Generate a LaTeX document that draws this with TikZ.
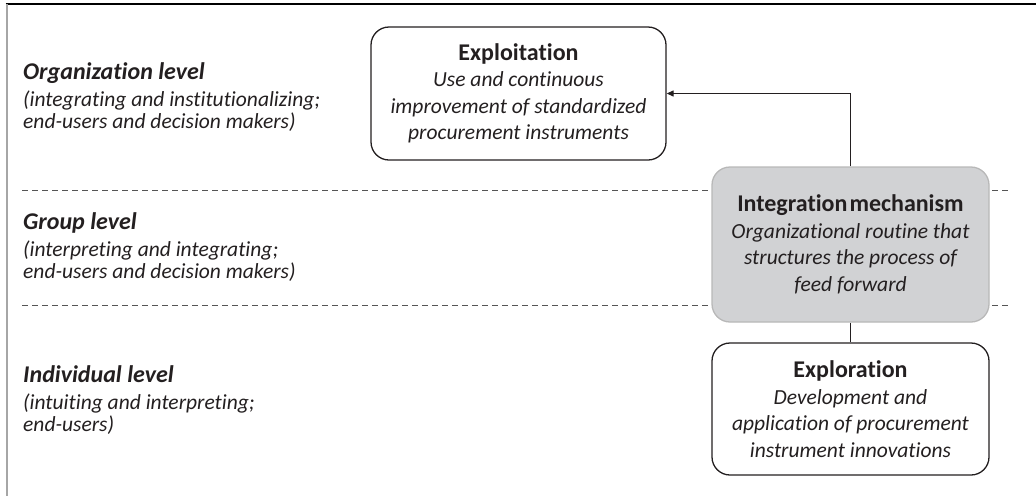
\documentclass[tikz,border=0pt]{standalone}
\usepackage{fontspec}
\setmainfont[Ligatures=NoCommon]{Carlito}
\usetikzlibrary{arrows.meta}
\definecolor{txt}{HTML}{231F20}
\definecolor{intfill}{HTML}{D1D2D4}
\definecolor{intborder}{HTML}{B8B8B8}
\definecolor{dashcol}{HTML}{555555}
\begin{document}
\begin{tikzpicture}[x=1pt,y=-1pt,
  box/.style={draw=txt, line width=1.3pt, rounded corners=18pt, inner sep=0pt,
    align=center, text=txt, font=\fontsize{21.5}{26.5}\selectfont\itshape},
  intbox/.style={box, draw=intborder, fill=intfill},
  bandlabel/.style={anchor=west, align=left, text=txt, inner sep=0pt,
    font=\fontsize{21.5}{22}\selectfont\itshape},
  dashline/.style={draw=dashcol, line width=0.9pt, dash pattern=on 6pt off 4pt},
  conn/.style={draw=txt, line width=1.2pt}
]
\useasboundingbox (0,0) rectangle (1036,496);
% page frame
\draw[black, line width=1.6pt] (5.7,4) -- (1036,4);
\draw[gray!70, line width=2pt] (6.5,4) -- (6.5,496);
% level separators
\draw[dashline] (22,190) -- (1010,190);
\draw[dashline] (22,305) -- (1010,305);
% level labels
\node[bandlabel] (org) at (23,97) {{\fontsize{24}{22}\selectfont\bfseries Organization level}\\[5pt](integrating and institutionalizing;\\end-users and decision makers)};
\node[bandlabel] (grp) at (23,247) {{\fontsize{24}{22}\selectfont\bfseries Group level}\\[5pt](interpreting and integrating;\\end-users and decision makers)};
\node[bandlabel] (ind) at (23,400) {{\fontsize{24}{22}\selectfont\bfseries Individual level}\\[5pt](intuiting and interpreting;\\end-users)};
% boxes
\node[box, minimum width=295pt, minimum height=133pt] (exploit) at (518.5,93.5)
  {{\fontsize{24}{27}\selectfont\bfseries\upshape Exploitation}\\Use and continuous\\improvement of standardized\\procurement instruments};
\node[intbox, minimum width=277pt, minimum height=155pt] (integ) at (850.5,244.5)
  {{\fontsize{24}{27}\selectfont\bfseries\upshape Integration\kern2pt mechanism}\\Organizational routine that\\structures the process of\\feed forward};
\node[box, minimum width=277pt, minimum height=132pt] (explor) at (850.5,409)
  {{\fontsize{24}{27}\selectfont\bfseries\upshape Exploration}\\Development and\\application of procurement\\instrument innovations};
% connectors
\draw[conn, -{Triangle[length=7pt,width=6pt]}] (integ.north) |- (exploit.east);
\draw[conn] (integ.south) -- (explor.north);
\end{tikzpicture}
\end{document}
